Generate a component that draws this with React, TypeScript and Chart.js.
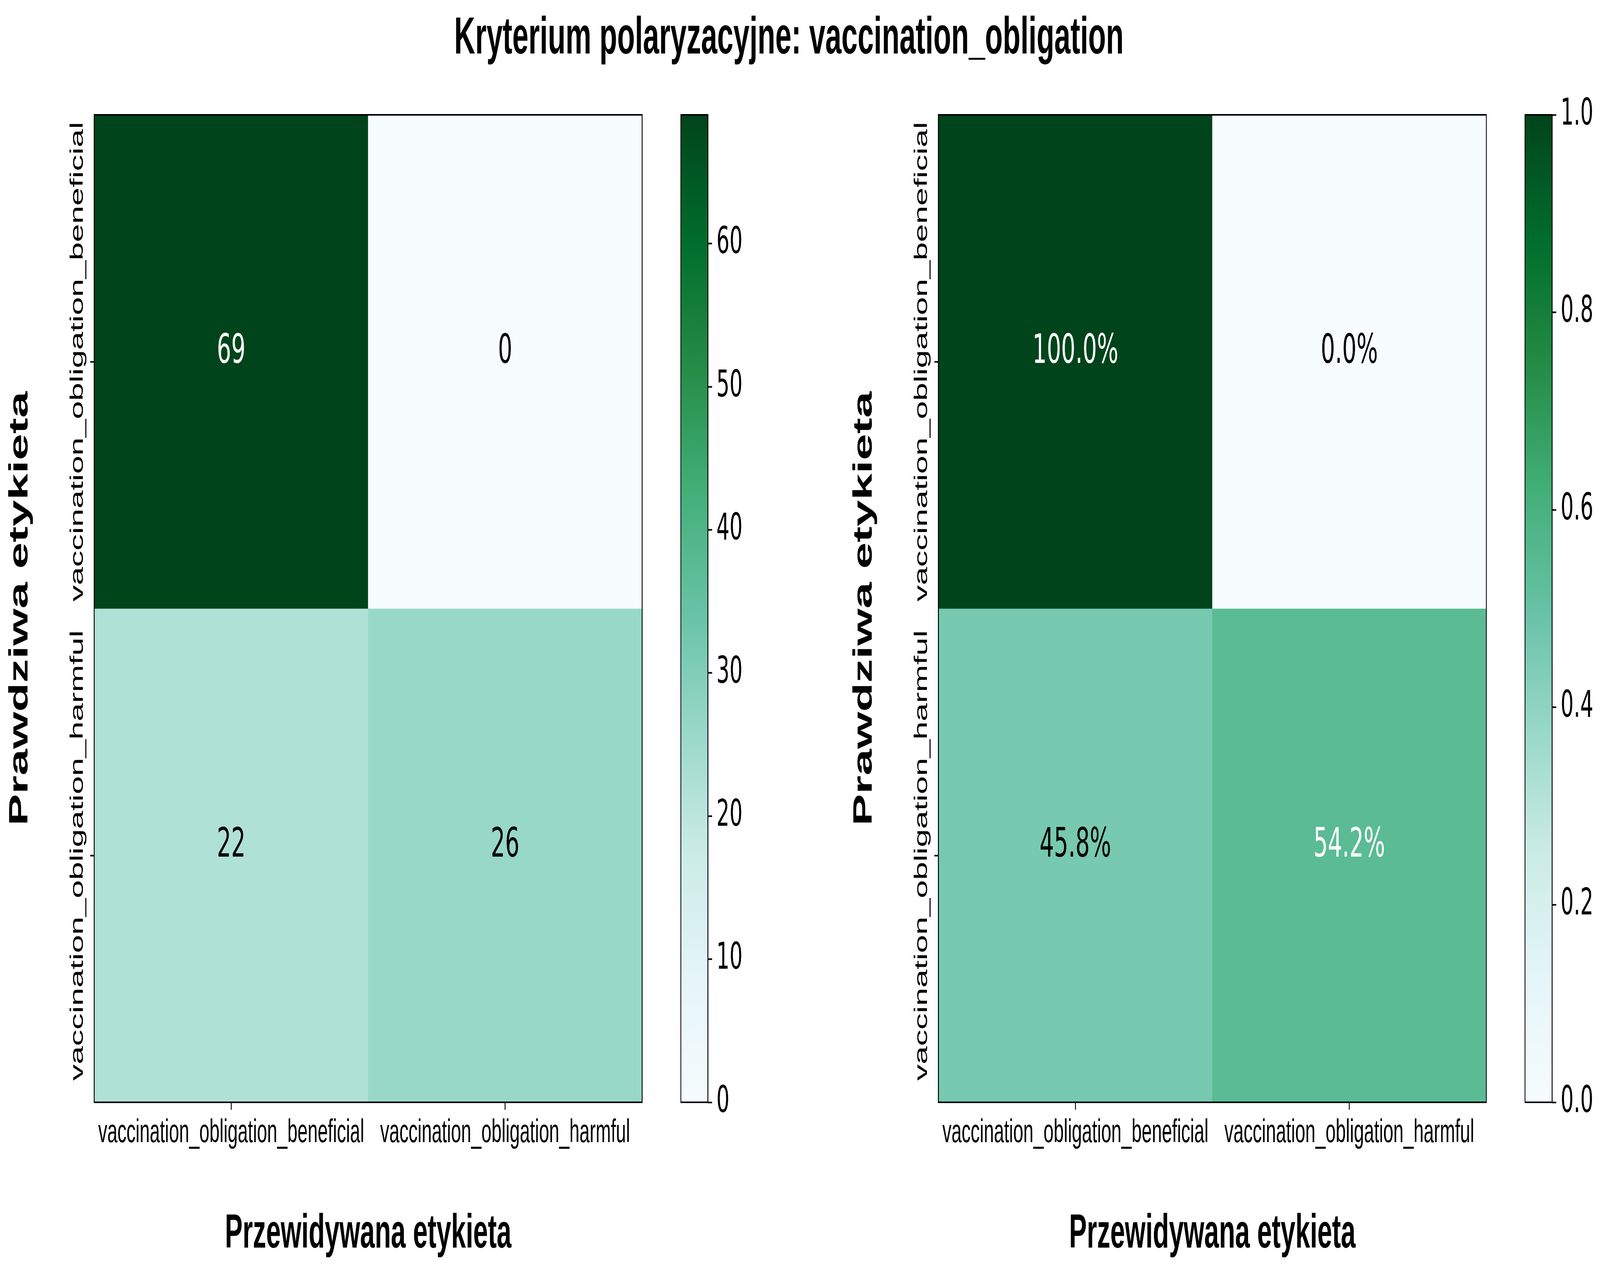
import React, { useEffect, useRef } from 'react';
import { Chart, registerables } from 'chart.js';

Chart.register(...registerables);

// ---------------- data ----------------
const FIG_TITLE = 'Kryterium polaryzacyjne: vaccination_obligation';
const X_TITLE = 'Przewidywana etykieta';
const Y_TITLE = 'Prawdziwa etykieta';
const CLASS_LABELS = ['vaccination_obligation_beneficial', 'vaccination_obligation_harmful'];

const COUNTS_ROW_BENEFICIAL = [69, 0];
const COUNTS_ROW_HARMFUL = [22, 26];
const NORM_ROW_BENEFICIAL = [1.0, 0.0];
const NORM_ROW_HARMFUL = [0.458, 0.542];

const COUNT_MAX = 69;
const NORM_MAX = 1.0;
const COUNT_CBAR_TICKS = [0, 10, 20, 30, 40, 50, 60];
const NORM_CBAR_TICKS = [0, 0.2, 0.4, 0.6, 0.8, 1.0];

// BuGn colormap stops
const BUGN = ['#f7fcfd', '#e5f5f9', '#ccece6', '#99d8c9', '#66c2a4', '#41ae76', '#238b45', '#006d2c', '#00441b'];

// ---------------- helpers ----------------
function hexToRgb(h: string) {
  const n = parseInt(h.slice(1), 16);
  return [(n >> 16) & 255, (n >> 8) & 255, n & 255];
}
function bugn(t: number) {
  const tt = Math.max(0, Math.min(1, t));
  const p = tt * (BUGN.length - 1);
  const i = Math.min(BUGN.length - 2, Math.floor(p));
  const f = p - i;
  const a = hexToRgb(BUGN[i]);
  const b = hexToRgb(BUGN[i + 1]);
  const c = a.map((v, k) => Math.round(v + (b[k] - v) * f));
  return `rgb(${c[0]},${c[1]},${c[2]})`;
}

const SANS = '"Liberation Sans", Arial, sans-serif';
const DEJAVU = '"DejaVu Sans", sans-serif';
const FIG_W = 7386;
const FIG_H = 3259;
const CB_LABEL_W = 260;

type Box = { left: number; top: number; width: number; height: number };
type Area = { l: number; t: number; r: number; b: number };

function padFor(box: Box, area: Area, extraRight = 0) {
  return {
    left: area.l - box.left,
    top: area.t - box.top,
    right: box.left + box.width - area.r - extraRight,
    bottom: box.top + box.height - area.b,
  };
}

// ---------------- heatmap ----------------
function Heatmap({ box, area, rows, vmax, fmt }: { box: Box; area: Area; rows: number[][]; vmax: number; fmt: (v: number) => string }) {
  const ref = useRef<HTMLCanvasElement>(null);
  useEffect(() => {
    const canvas = ref.current!;
    const decor = {
      id: 'decor',
      afterDatasetsDraw(chart: any) {
        const { ctx, chartArea: a, scales } = chart;
        const x = scales.x;
        const y = scales.y;
        ctx.save();
        // cell annotations
        ctx.font = `104px ${DEJAVU}`;
        ctx.textAlign = 'center';
        ctx.textBaseline = 'alphabetic';
        rows.forEach((row, ri) => {
          row.forEach((v, ci) => {
            const px = x.getPixelForTick(ci);
            const py = y.getPixelForValue(ri + 0.5);
            ctx.fillStyle = v > vmax / 2 ? '#ffffff' : '#000000';
            ctx.fillText(fmt(v), px, py + 3);
          });
        });
        // frame
        ctx.strokeStyle = '#000';
        ctx.lineWidth = 4;
        ctx.strokeRect(a.left, a.top, a.right - a.left, a.bottom - a.top);
        // tick labels
        ctx.fillStyle = '#000';
        ctx.font = `84px ${SANS}`;
        ctx.textAlign = 'center';
        ctx.textBaseline = 'alphabetic';
        CLASS_LABELS.forEach((lab, i) => {
          ctx.fillText(lab, x.getPixelForTick(i), a.bottom + 102);
        });
        CLASS_LABELS.forEach((lab, i) => {
          ctx.save();
          ctx.translate(a.left - 53, y.getPixelForValue(i + 0.5));
          ctx.rotate(-Math.PI / 2);
          ctx.fillText(lab, 0, 0);
          ctx.restore();
        });
        // axis titles
        ctx.font = `bold 122px ${SANS}`;
        ctx.fillText(X_TITLE, (a.left + a.right) / 2, a.bottom + 372);
        ctx.save();
        ctx.translate(a.left - 308, (a.top + a.bottom) / 2);
        ctx.rotate(-Math.PI / 2);
        ctx.fillText(Y_TITLE, 0, 0);
        ctx.restore();
        ctx.restore();
      },
    };
    const chart = new Chart(canvas, {
      type: 'bar',
      data: {
        labels: CLASS_LABELS,
        datasets: rows.map((row, ri) => ({
          data: row.map(() => [ri, ri + 1]),
          backgroundColor: row.map((v) => bugn(v / vmax)),
          borderWidth: 0,
          barPercentage: 1,
          categoryPercentage: 1,
          grouped: false,
        })) as any,
      },
      options: {
        responsive: false,
        animation: false,
        devicePixelRatio: 1,
        layout: { padding: padFor(box, area) },
        plugins: { legend: { display: false }, tooltip: { enabled: false }, title: { display: false } },
        events: [],
        scales: {
          x: {
            type: 'category',
            offset: true,
            position: 'bottom',
            afterFit: (s: any) => { s.height = 0; },
            grid: { offset: false, drawOnChartArea: false, drawTicks: true, tickLength: 19, tickWidth: 4, tickColor: '#000', color: '#000' },
            border: { display: false },
            ticks: { display: false },
          },
          y: {
            type: 'linear',
            min: 0,
            max: 2,
            reverse: true,
            position: 'left',
            afterBuildTicks: (s: any) => { s.ticks = CLASS_LABELS.map((_, i) => ({ value: i + 0.5 })); },
            afterFit: (s: any) => { s.width = 0; },
            grid: { drawOnChartArea: false, drawTicks: true, tickLength: 19, tickWidth: 4, tickColor: '#000', color: '#000' },
            border: { display: false },
            ticks: { display: false },
          },
        },
      } as any,
      plugins: [decor],
    });
    return () => chart.destroy();
  }, []);
  return (
    <div style={{ position: 'absolute', left: box.left, top: box.top, width: box.width, height: box.height }}>
      <canvas ref={ref} width={box.width} height={box.height} style={{ display: 'block', width: box.width, height: box.height }} />
    </div>
  );
}

// ---------------- colorbar ----------------
function Colorbar({ box, area, vmax, ticks, fmt }: { box: Box; area: Area; vmax: number; ticks: number[]; fmt: (v: number) => string }) {
  const ref = useRef<HTMLCanvasElement>(null);
  useEffect(() => {
    const canvas = ref.current!;
    const frame = {
      id: 'frame',
      afterDatasetsDraw(chart: any) {
        const { ctx, chartArea: a } = chart;
        ctx.save();
        ctx.strokeStyle = '#000';
        ctx.lineWidth = 4;
        ctx.strokeRect(a.left, a.top, a.right - a.left, a.bottom - a.top);
        ctx.restore();
      },
    };
    const chart = new Chart(canvas, {
      type: 'bar',
      data: {
        labels: [''],
        datasets: [
          {
            data: [vmax],
            backgroundColor: (c: any) => {
              const { ctx, chartArea } = c.chart;
              if (!chartArea) return BUGN[0];
              const g = ctx.createLinearGradient(0, chartArea.bottom, 0, chartArea.top);
              BUGN.forEach((col, i) => g.addColorStop(i / (BUGN.length - 1), col));
              return g;
            },
            borderWidth: 0,
            barPercentage: 1,
            categoryPercentage: 1,
          },
        ],
      },
      options: {
        responsive: false,
        animation: false,
        devicePixelRatio: 1,
        events: [],
        layout: { padding: padFor(box, area, CB_LABEL_W) },
        plugins: { legend: { display: false }, tooltip: { enabled: false } },
        scales: {
          x: { display: false, offset: true },
          y: {
            type: 'linear',
            position: 'right',
            min: 0,
            max: vmax,
            afterBuildTicks: (s: any) => { s.ticks = ticks.map((v) => ({ value: v })); },
            afterFit: (s: any) => { s.width = CB_LABEL_W; },
            grid: { drawOnChartArea: false, drawTicks: true, tickLength: 19, tickWidth: 4, tickColor: '#000', color: '#000' },
            border: { display: false },
            ticks: {
              color: '#000',
              padding: 20,
              autoSkip: false,
              font: { family: 'DejaVu Sans', size: 95 },
              callback: (v: any) => fmt(Number(v)),
            },
          },
        },
      } as any,
      plugins: [frame],
    });
    return () => chart.destroy();
  }, []);
  return (
    <div style={{ position: 'absolute', left: box.left, top: box.top, width: box.width, height: box.height }}>
      <canvas ref={ref} width={box.width} height={box.height} style={{ display: 'block', width: box.width, height: box.height }} />
    </div>
  );
}

// ---------------- layout ----------------
const PANEL_SHIFT = 3897;
const HM_AREA: Area = { l: 435, t: 294, r: 2964, b: 2822 };
const CB_AREA: Area = { l: 3143, t: 294, r: 3268, b: 2822 };

function shiftArea(a: Area, dx: number): Area {
  return { l: a.l + dx, t: a.t, r: a.r + dx, b: a.b };
}

export default function App() {
  const countsRows = [COUNTS_ROW_BENEFICIAL, COUNTS_ROW_HARMFUL];
  const normRows = [NORM_ROW_BENEFICIAL, NORM_ROW_HARMFUL];
  // fit the figure into the actual viewport (the browser may clamp the window width)
  const vw = typeof window !== 'undefined' ? window.innerWidth : FIG_W;
  const vh = typeof window !== 'undefined' ? window.innerHeight : FIG_H;
  const sx = vw / FIG_W;
  const sy = vh / FIG_H;
  return (
    <div style={{ position: 'fixed', left: 0, top: 0, width: vw, height: vh, overflow: 'hidden', background: '#fff' }}>
      <div
        style={{
          position: 'absolute',
          left: 0,
          top: 0,
          width: FIG_W,
          height: FIG_H,
          background: '#fff',
          transform: `scale(${sx}, ${sy})`,
          transformOrigin: '0 0',
        }}
      >
        <div
          style={{
            position: 'absolute',
            left: 0,
            top: 24,
            width: 7284,
            textAlign: 'center',
            font: `bold 134px ${SANS}`,
            lineHeight: '134px',
            whiteSpace: 'nowrap',
            color: '#000',
          }}
        >
          {FIG_TITLE}
        </div>
        <Heatmap
          box={{ left: 0, top: 0, width: 3100, height: FIG_H }}
          area={HM_AREA}
          rows={countsRows}
          vmax={COUNT_MAX}
          fmt={(v) => String(v)}
        />
        <Colorbar
          box={{ left: 3100, top: 0, width: 600, height: FIG_H }}
          area={CB_AREA}
          vmax={COUNT_MAX}
          ticks={COUNT_CBAR_TICKS}
          fmt={(v) => String(Math.round(v))}
        />
        <Heatmap
          box={{ left: PANEL_SHIFT, top: 0, width: 3100, height: FIG_H }}
          area={shiftArea(HM_AREA, PANEL_SHIFT)}
          rows={normRows}
          vmax={NORM_MAX}
          fmt={(v) => (v * 100).toFixed(1) + '%'}
        />
        <Colorbar
          box={{ left: 3100 + PANEL_SHIFT, top: 0, width: FIG_W - 3100 - PANEL_SHIFT, height: FIG_H }}
          area={shiftArea(CB_AREA, PANEL_SHIFT)}
          vmax={NORM_MAX}
          ticks={NORM_CBAR_TICKS}
          fmt={(v) => v.toFixed(1)}
        />
      </div>
    </div>
  );
}
